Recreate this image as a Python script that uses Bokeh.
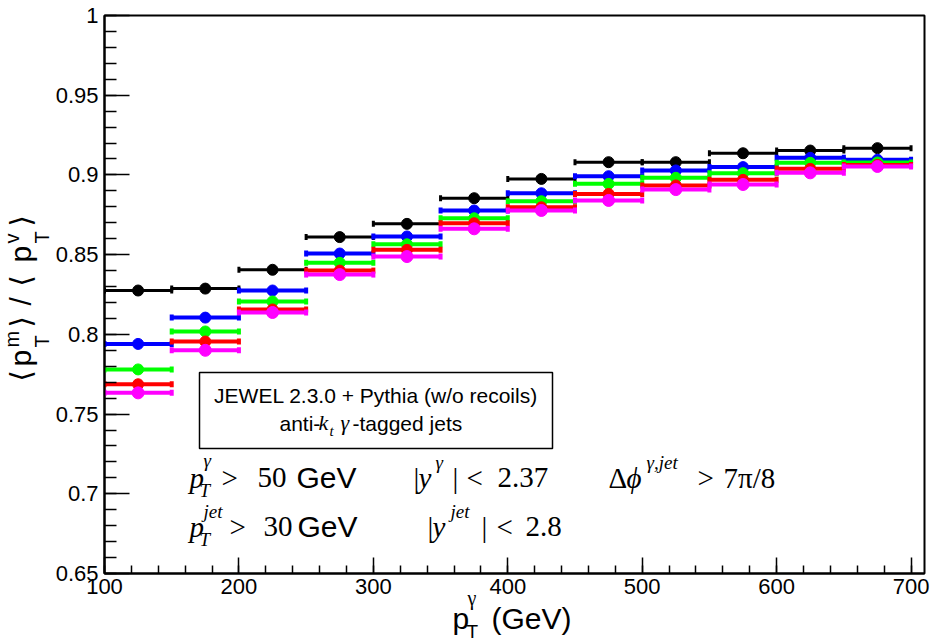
import math
from bokeh.plotting import figure
from bokeh.models import Range1d, FixedTicker, BoxAnnotation
from bokeh.core.properties import value
from bokeh.embed import file_html
from bokeh.resources import INLINE

# ---------------- data ----------------
bin_low = [100, 150, 200, 250, 300, 350, 400, 450, 500, 550, 600, 650]
bin_high = [150, 200, 250, 300, 350, 400, 450, 500, 550, 600, 650, 700]
bin_center = [125, 175, 225, 275, 325, 375, 425, 475, 525, 575, 625, 675]

ratio_black = [0.8275, 0.8287, 0.8405, 0.8610, 0.8693, 0.8854, 0.8975, 0.9080, 0.9080, 0.9136, 0.9153, 0.9168]
ratio_blue = [0.7940, 0.8105, 0.8275, 0.8507, 0.8614, 0.8777, 0.8885, 0.8992, 0.9028, 0.9049, 0.9107, 0.9095]
ratio_green = [0.7780, 0.8018, 0.8206, 0.8449, 0.8565, 0.8728, 0.8835, 0.8944, 0.8982, 0.9011, 0.9076, 0.9078]
ratio_red = [0.7687, 0.7955, 0.8156, 0.8400, 0.8530, 0.8697, 0.8797, 0.8881, 0.8934, 0.8969, 0.9038, 0.9063]
ratio_magenta = [0.7633, 0.7900, 0.8137, 0.8375, 0.8488, 0.8662, 0.8777, 0.8840, 0.8908, 0.8940, 0.9013, 0.9053]

x_tick_values = [100, 200, 300, 400, 500, 600, 700]
x_tick_labels = ["100", "200", "300", "400", "500", "600", "700"]
y_tick_values = [0.65, 0.7, 0.75, 0.8, 0.85, 0.9, 0.95, 1.0]
y_tick_labels = ["0.65", "0.7", "0.75", "0.8", "0.85", "0.9", "0.95", "1"]

# ---------------- layout ----------------
W, H = 932, 642
FRAME_L, FRAME_R, FRAME_T, FRAME_B = 104, 924, 15, 573
X_LO, X_HI = 100, 710
Y_LO, Y_HI = 0.65, 1.0
BASE_SHIFT = 0.4  # empirical offset of the alphabetic baseline (fraction of font size)


def sx(px):
    return X_LO + (px - FRAME_L) * (X_HI - X_LO) / (FRAME_R - FRAME_L)


def sy(py):
    return Y_LO + (FRAME_B - py) * (Y_HI - Y_LO) / (FRAME_B - FRAME_T)


p = figure(width=W, height=H, output_backend="svg", toolbar_location=None,
           x_range=Range1d(X_LO, X_HI), y_range=Range1d(Y_LO, Y_HI),
           min_border_left=FRAME_L, min_border_right=W - FRAME_R,
           min_border_top=FRAME_T, min_border_bottom=H - FRAME_B)
p.background_fill_color = "white"
p.border_fill_color = "white"
p.outline_line_color = "black"
p.outline_line_width = 2
p.xgrid.visible = False
p.ygrid.visible = False

SANS = "Liberation Sans"
SERIF = "Liberation Serif"

# axes
xminor = [100 + 20 * k for k in range(31)]
p.xaxis.ticker = FixedTicker(ticks=x_tick_values, minor_ticks=xminor)
p.xaxis.major_label_overrides = {v: s for v, s in zip(x_tick_values, x_tick_labels)}
yminor = [round(0.65 + 0.01 * k, 2) for k in range(36)]
p.yaxis.ticker = FixedTicker(ticks=y_tick_values, minor_ticks=yminor)
p.yaxis.major_label_overrides = {v: s for v, s in zip(y_tick_values, y_tick_labels)}

for ax in (p.xaxis[0], p.yaxis[0]):
    ax.axis_line_color = "black"
    ax.axis_line_width = 2
    ax.major_tick_line_color = "black"
    ax.minor_tick_line_color = "black"
    ax.major_tick_line_width = 1.5
    ax.minor_tick_line_width = 1.5
    ax.major_tick_out = 0
    ax.minor_tick_out = 0
    ax.major_label_text_font = SANS
    ax.major_label_text_font_size = "22px"
    ax.major_label_text_color = "black"
p.xaxis.major_tick_in = 16
p.xaxis.minor_tick_in = 8
p.yaxis.major_tick_in = 25
p.yaxis.minor_tick_in = 12
p.xaxis.major_label_standoff = 5
p.yaxis.major_label_standoff = 6

# series
series = [
    (ratio_black, "#000000", 3, 11),
    (ratio_blue, "#0000ff", 4, 11),
    (ratio_green, "#00ff00", 4, 11),
    (ratio_red, "#ff0000", 4, 11),
    (ratio_magenta, "#ff00ff", 4, 12),
]
for vals, col, lw, ms in series:
    p.segment(x0=bin_low, y0=vals, x1=bin_high, y1=vals, line_color=col, line_width=lw)
    p.scatter(x=bin_low, y=vals, marker="dash", angle=math.pi / 2, size=6,
              line_color=col, line_width=lw)
    p.scatter(x=bin_high, y=vals, marker="dash", angle=math.pi / 2, size=6,
              line_color=col, line_width=lw)
    p.scatter(x=bin_center, y=vals, marker="circle", size=ms,
              fill_color=col, line_color=col)

# info box
p.add_layout(BoxAnnotation(left=sx(199), right=sx(552), top=sy(372), bottom=sy(448),
                           fill_color="white", fill_alpha=1.0,
                           line_color="black", line_width=1.5, line_alpha=1.0))

# text pieces: (text, px, baseline py, font, size, style, align, angle_deg)
pieces = [
    ("JEWEL 2.3.0 + Pythia (w/o recoils)", 375.5, 403, SANS, 21, "normal", "center", 0),
    ("anti-", 279, 431, SANS, 21, "normal", "left", 0),
    ("k", 318, 431, SERIF, 22, "italic", "left", 0),
    ("t", 329, 436, SERIF, 15, "italic", "left", 0),
    ("γ", 340, 431, SERIF, 22, "italic", "left", 0),
    ("-tagged jets", 352, 431, SANS, 21, "normal", "left", 0),
    # cut line 1
    ("p", 189, 489, SERIF, 29, "italic", "left", 0),
    ("γ", 203, 468, SERIF, 19, "italic", "left", 0),
    ("T", 199, 498, SERIF, 19, "italic", "left", 0),
    (">", 221, 489, SERIF, 29, "normal", "left", 0),
    ("50", 257, 489, SERIF, 29, "normal", "left", 0),
    ("GeV", 296, 489, SANS, 30, "normal", "left", 0),
    ("|", 413, 489, SERIF, 29, "normal", "left", 0),
    ("y", 418, 489, SERIF, 29, "italic", "left", 0),
    ("γ", 435, 470, SERIF, 19, "italic", "left", 0),
    ("|", 452, 489, SERIF, 29, "normal", "left", 0),
    ("<", 466, 489, SERIF, 29, "normal", "left", 0),
    ("2.37", 497, 489, SERIF, 29, "normal", "left", 0),
    ("Δ", 608, 489, SERIF, 29, "normal", "left", 0),
    ("ϕ", 626, 489, SERIF, 29, "italic", "left", 0),
    ("γ,jet", 646, 470, SERIF, 19, "italic", "left", 0),
    (">", 697, 489, SERIF, 29, "normal", "left", 0),
    ("7π/8", 723, 489, SERIF, 29, "normal", "left", 0),
    # cut line 2
    ("p", 189, 538, SERIF, 29, "italic", "left", 0),
    ("jet", 203, 519, SERIF, 19, "italic", "left", 0),
    ("T", 199, 547, SERIF, 19, "italic", "left", 0),
    (">", 229, 538, SERIF, 29, "normal", "left", 0),
    ("30", 263, 538, SERIF, 29, "normal", "left", 0),
    ("GeV", 297, 538, SANS, 30, "normal", "left", 0),
    ("|", 427, 538, SERIF, 29, "normal", "left", 0),
    ("y", 432, 538, SERIF, 29, "italic", "left", 0),
    ("jet", 450, 519, SERIF, 19, "italic", "left", 0),
    ("|", 481, 538, SERIF, 29, "normal", "left", 0),
    ("<", 496, 538, SERIF, 29, "normal", "left", 0),
    ("2.8", 525, 538, SERIF, 29, "normal", "left", 0),
    # x-axis title
    ("p", 452, 630, SANS, 30, "normal", "left", 0),
    ("γ", 467, 605, SERIF, 20, "normal", "left", 0),
    ("T", 466, 639, SANS, 19, "normal", "left", 0),
    ("(GeV)", 491, 630, SANS, 30, "normal", "left", 0),
    # y-axis title (rotated; px = baseline position, py = start of text)
    ("⟨", 32, 381, "DejaVu Sans", 29, "normal", "left", 90),
    ("p", 32, 366, SANS, 30, "normal", "left", 90),
    ("T", 49, 347, SANS, 20, "normal", "left", 90),
    ("m", 19, 347, SANS, 20, "normal", "left", 90),
    ("⟩", 32, 327, "DejaVu Sans", 29, "normal", "left", 90),
    ("/", 32, 305, SANS, 30, "normal", "left", 90),
    ("⟨", 32, 286, "DejaVu Sans", 29, "normal", "left", 90),
    ("p", 32, 262, SANS, 30, "normal", "left", 90),
    ("T", 49, 243, SANS, 20, "normal", "left", 90),
    ("v", 19, 243, SANS, 20, "normal", "left", 90),
    ("⟩", 32, 226, "DejaVu Sans", 29, "normal", "left", 90),
]
for txt, px, py, font, size, style, align, ang in pieces:
    shift = BASE_SHIFT * size
    if ang == 0:
        ax_, ay_ = px, py - shift
    else:
        ax_, ay_ = px - shift, py
    p.text(x=[sx(ax_)], y=[sy(ay_)], text=[txt], text_font=value(font),
           text_font_size=f"{size}px", text_font_style=style,
           text_color="black", text_align=align, text_baseline="alphabetic",
           angle=math.radians(ang), level="overlay")

open("out.html", "w").write(file_html(p, INLINE))
